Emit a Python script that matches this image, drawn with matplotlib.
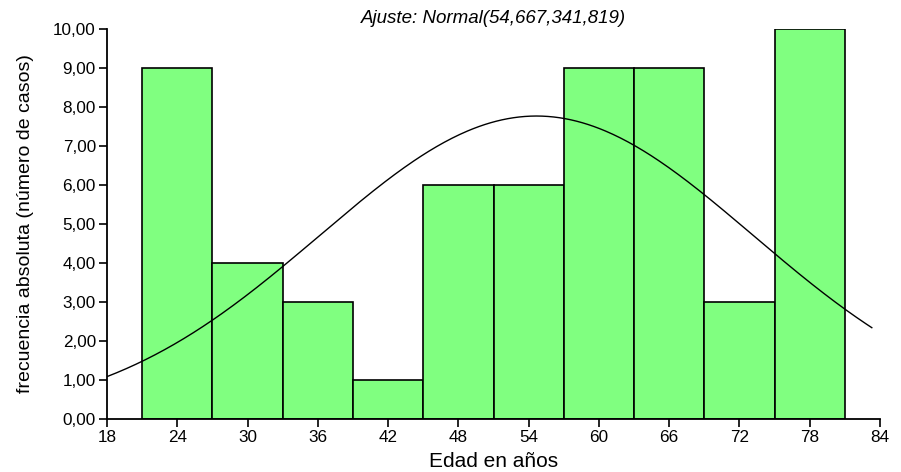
import numpy as np
import matplotlib.pyplot as plt

plt.rcParams['font.family'] = ['Liberation Sans', 'DejaVu Sans']

# histogram of ages: bin edges every 6 years, counts per bin
bin_edges = [21, 27, 33, 39, 45, 51, 57, 63, 69, 75, 81]
counts = [9, 4, 3, 1, 6, 6, 9, 9, 3, 10]

# fitted normal (mean, variance) and curve span
fit_mean = 54.667
fit_var = 341.819
curve_start, curve_end = 18, 83.3

x_ticks = [18, 24, 30, 36, 42, 48, 54, 60, 66, 72, 78, 84]
y_ticks = np.arange(0, 11, 1)

fig = plt.figure(figsize=(9.01, 4.72), dpi=100)
ax = fig.add_axes([0.1188, 0.1123, 0.8579, 0.8263])

widths = np.diff(bin_edges)
ax.bar(bin_edges[:-1], counts, width=widths, align='edge',
       color='#80ff80', edgecolor='black', linewidth=1.2, zorder=2)

# normal curve scaled to counts: n * bin width * pdf
n = sum(counts)
bw = widths[0]
sd = np.sqrt(fit_var)
xs = np.linspace(curve_start, curve_end, 400)
ys = n * bw * np.exp(-(xs - fit_mean) ** 2 / (2 * fit_var)) / (sd * np.sqrt(2 * np.pi))
ax.plot(xs, ys, color='black', linewidth=1.0, zorder=3)

ax.set_xlim(18, 84)
ax.set_ylim(0, 10)
ax.set_xticks(x_ticks)
ax.set_yticks(y_ticks)
ax.set_yticklabels([f"{v:.2f}".replace('.', ',') for v in y_ticks])
ax.tick_params(labelsize=12.3, direction='out', length=6, width=1.2, pad=2, colors='black')

for side in ['top', 'right']:
    ax.spines[side].set_visible(False)
for side in ['left', 'bottom']:
    ax.spines[side].set_linewidth(1.3)

ax.set_xlabel('Edad en años', fontsize=15, labelpad=5)
ax.set_ylabel('frecuencia absoluta (número de casos)', fontsize=14, labelpad=14)
ax.set_title('Ajuste: Normal(54,667,341,819)', fontsize=13.5, style='italic', pad=4)

fig.savefig('out.png', dpi=100)
